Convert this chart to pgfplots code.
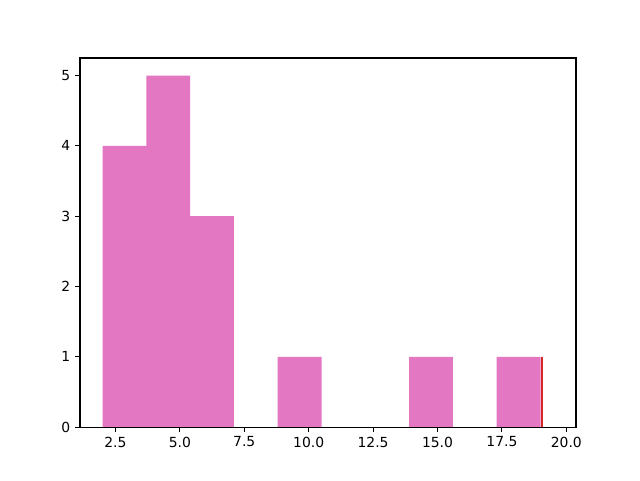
\documentclass[border=0pt]{standalone}
\usepackage{fontspec}
\setmainfont{DejaVu Sans}
\usepackage{pgfplots}
\pgfplotsset{compat=1.18}
\usetikzlibrary{calc}
\definecolor{tabpink}{HTML}{E377C2}
\definecolor{tabred}{HTML}{D62728}
\begin{document}
\begin{tikzpicture}
	\begin{axis}[
			scale only axis,
			width=357.1pt, height=265.7pt,
			xmin=1.125, xmax=20.375,
			ymin=0, ymax=5.25,
			xtick={2.5,5,7.5,10,12.5,15,17.5,20},
			ytick={0,1,2,3,4,5},
			xticklabel style={/pgf/number format/.cd,fixed,fixed zerofill,precision=1},
			/pgf/number format/assume math mode=true,
			tick align=outside,
			tick pos=left,
			major tick length=3.5pt,
			axis line style={line width=0.8pt},
			every tick/.style={black, line width=0.8pt},
			tick label style={font=\fontsize{10}{12}\selectfont},
			axis on top,
		]
		% main histogram, 10 bins
		\addplot[ybar interval, fill=tabpink, draw=none] coordinates {
			(2.0,4) (3.7,5) (5.4,3) (7.1,0) (8.8,1) (10.5,0)
			(12.2,0) (13.9,1) (15.6,0) (17.3,1) (19.0,1)
		};
		% second histogram, single value
		\addplot[ybar interval, fill=tabred, draw=none] coordinates {
			(19.0,1) (19.1,1)
		};
	\end{axis}
	\path ($(current axis.south west)+(-57.6pt,-38.2pt)$) rectangle ($(current axis.north east)+(46.1pt,41.8pt)$);
\end{tikzpicture}
\end{document}
